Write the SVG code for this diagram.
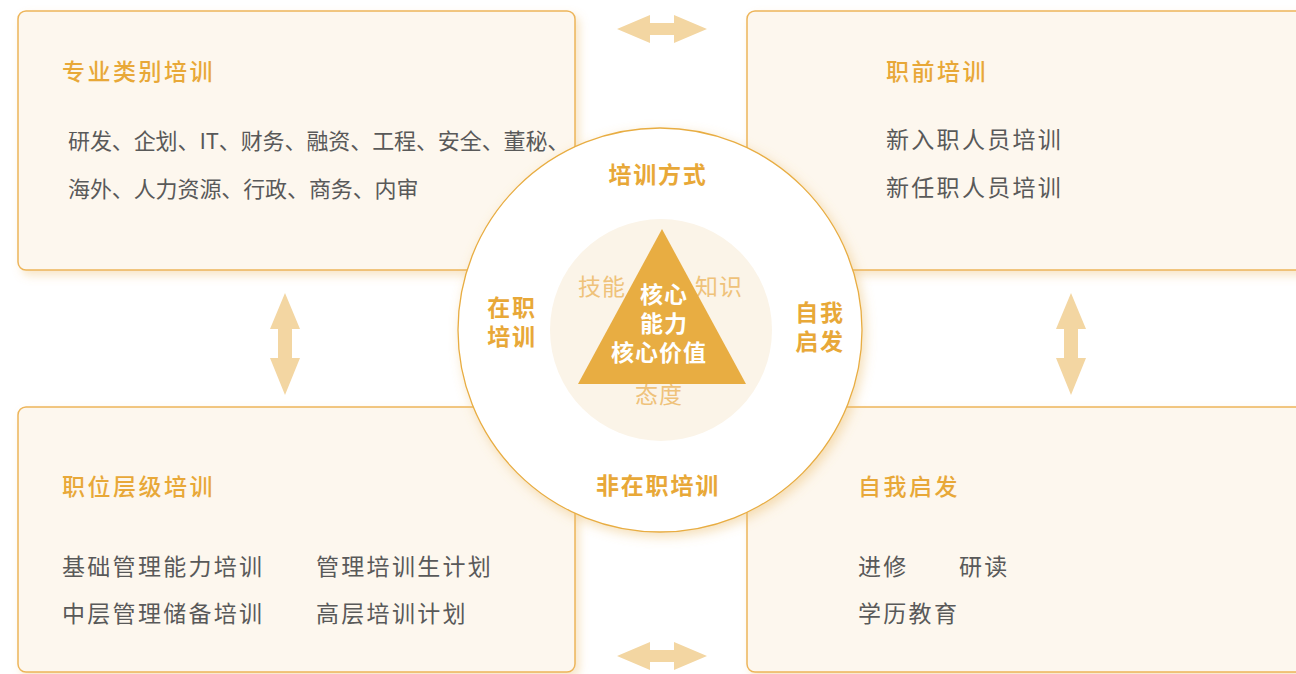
<svg xmlns="http://www.w3.org/2000/svg" width="1296" height="674" viewBox="0 0 1296 674">
<defs>
<filter id="sh" x="-20%" y="-20%" width="140%" height="140%">
<feDropShadow dx="4" dy="5" stdDeviation="5" flood-color="#E9B764" flood-opacity="0.35"/>
</filter>
<filter id="csh" x="-20%" y="-20%" width="140%" height="140%">
<feDropShadow dx="3" dy="4" stdDeviation="6" flood-color="#E9B764" flood-opacity="0.45"/>
</filter>
<path id="harrow" d="M0,0 L33,-14 L33,-6 L57,-6 L57,-14 L90,0 L57,14 L57,6 L33,6 L33,14 Z"/>
<path id="varrow" d="M0,0 L15,36 L7,36 L7,65 L15,65 L0,102 L-15,65 L-7,65 L-7,36 L-15,36 Z"/>
</defs>
<style>
.box{fill:#FDF7EE;stroke:#EDB55A;stroke-width:1.5}
.t{font-family:"Noto Sans CJK SC","Noto Sans",sans-serif;font-size:23px;letter-spacing:2.5px;fill:#E8A838;font-weight:500;dominant-baseline:central}
.b{font-family:"Noto Sans CJK SC","Noto Sans",sans-serif;font-size:23px;letter-spacing:2.3px;fill:#595959;dominant-baseline:central}
.b2{font-family:"Noto Sans CJK SC","Noto Sans",sans-serif;font-size:22px;letter-spacing:-0.1px;fill:#595959;dominant-baseline:central}
.c{font-family:"Noto Sans CJK SC","Noto Sans",sans-serif;font-size:23px;letter-spacing:1.8px;fill:#E8A838;font-weight:700;text-anchor:middle;dominant-baseline:central}
.l{font-family:"Noto Sans CJK SC","Noto Sans",sans-serif;font-size:23px;letter-spacing:1px;fill:#EFC27A;text-anchor:middle;dominant-baseline:central}
.w{font-family:"Noto Sans CJK SC","Noto Sans",sans-serif;font-size:23px;letter-spacing:1px;fill:#FFFFFF;font-weight:700;text-anchor:middle;dominant-baseline:central}
.arr{fill:#F3D6A2}
</style>
<rect width="1296" height="674" fill="#FFFFFF"/>

<g id="connectors">
<use href="#harrow" x="617" y="29" class="arr"/>
<use href="#harrow" x="617" y="656" class="arr"/>
<use href="#varrow" x="285" y="293" class="arr"/>
<use href="#varrow" x="1071" y="293" class="arr"/>
</g>

<g id="box-professional">
<rect class="box" x="18" y="11" width="557" height="259" rx="8" filter="url(#sh)"/>
<text class="t" x="62" y="70">专业类别培训</text>
<text class="b2" x="68" y="139">研发、企划、IT、财务、融资、工程、安全、董秘、</text>
<text class="b2" x="68" y="187">海外、人力资源、行政、商务、内审</text>
</g>

<g id="box-preservice">
<rect class="box" x="747" y="11" width="570" height="259" rx="8" filter="url(#sh)"/>
<text class="t" x="886" y="70">职前培训</text>
<text class="b" x="886" y="138">新入职人员培训</text>
<text class="b" x="886" y="186">新任职人员培训</text>
</g>

<g id="box-level">
<rect class="box" x="18" y="407" width="557" height="265" rx="8" filter="url(#sh)"/>
<text class="t" x="62" y="485">职位层级培训</text>
<text class="b" x="62" y="565">基础管理能力培训</text>
<text class="b" x="316" y="565">管理培训生计划</text>
<text class="b" x="62" y="612">中层管理储备培训</text>
<text class="b" x="316" y="612">高层培训计划</text>
</g>

<g id="box-self">
<rect class="box" x="747" y="407" width="570" height="265" rx="8" filter="url(#sh)"/>
<text class="t" x="858" y="485">自我启发</text>
<text class="b" x="858" y="565">进修</text>
<text class="b" x="959" y="565">研读</text>
<text class="b" x="858" y="612">学历教育</text>
</g>

<g id="center">
<circle cx="660" cy="330" r="202" fill="#FFFFFF" stroke="#E8AD42" stroke-width="1.3" filter="url(#csh)"/>
<circle cx="661" cy="330" r="111" fill="#FBF4E8"/>
<text class="c" x="658" y="173">培训方式</text>
<text class="c" x="512" y="306">在职</text>
<text class="c" x="512" y="335">培训</text>
<text class="c" x="820" y="311">自我</text>
<text class="c" x="820" y="340">启发</text>
<text class="c" x="658" y="484">非在职培训</text>
<text class="l" x="602" y="285">技能</text>
<text class="l" x="719" y="285">知识</text>
<text class="l" x="659" y="393">态度</text>
<polygon points="662,229 578,384 746,384" fill="#E8AD42"/>
<text class="w" x="664" y="293">核心</text>
<text class="w" x="664" y="322">能力</text>
<text class="w" x="659" y="351">核心价值</text>
</g>
</svg>
